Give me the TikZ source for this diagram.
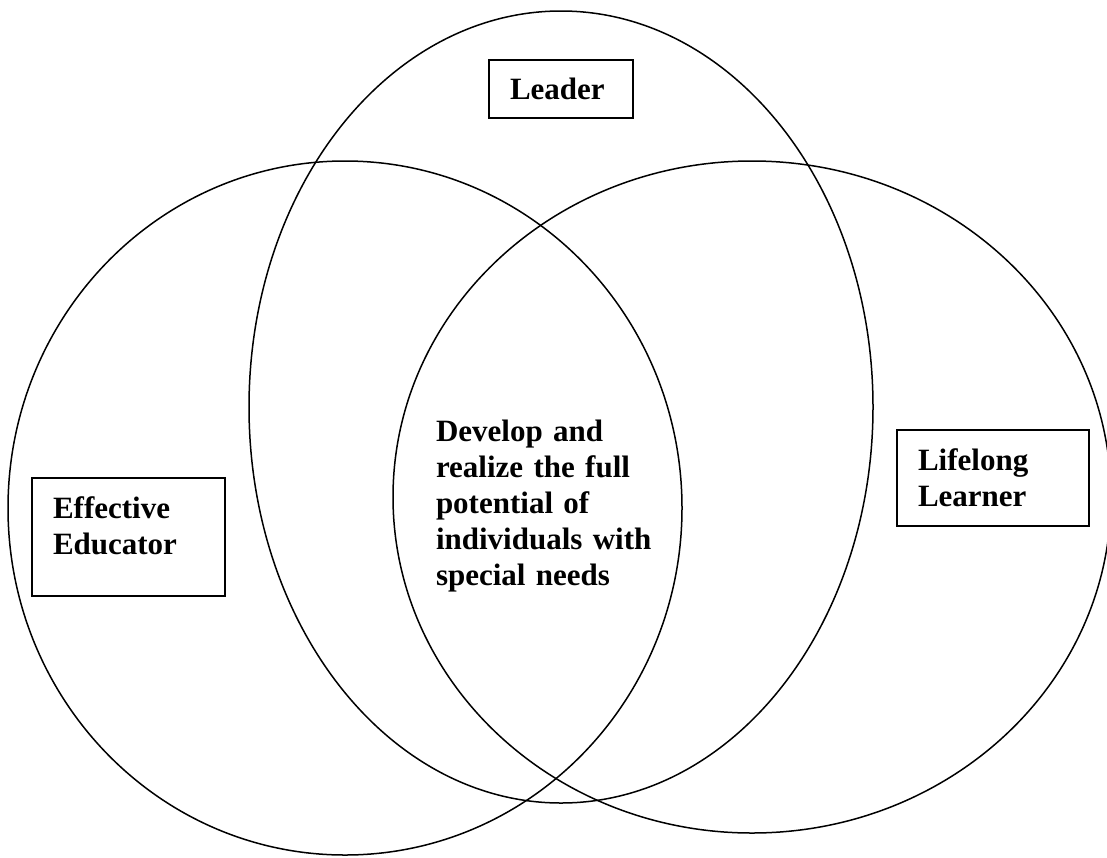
\documentclass[tikz,border=0pt]{standalone}
\usepackage{fontspec}
\setmainfont{Liberation Serif}
\usetikzlibrary{shapes}

\begin{document}
\begin{tikzpicture}[x=0.5pt,y=-0.5pt]
    \tikzstyle{ring}=[line width=0.75pt]
    \tikzstyle{every node}=[font=\fontsize{15.5}{18}\selectfont\bfseries,align=left,anchor=base west,outer sep=0pt]
    \tikzstyle{tag}=[draw,line width=0.9pt,inner xsep=10.5pt,inner ysep=0pt]
    \useasboundingbox (0,0) rectangle (1107,857);
    % the three circles
    \draw[ring] (345,508) ellipse [x radius=337, y radius=347];
    \draw[ring] (561,407) ellipse [x radius=312, y radius=396];
    \draw[ring] (752,497) ellipse [x radius=359, y radius=336];
    % labels
    \node[tag,text width=51pt,text height=19.5pt,text depth=9.5pt] (leader) at (489,99) {Leader};
    \node[tag,text width=75.5pt,text height=20pt,text depth=39pt] (educator) at (32,518) {Effective\\Educator};
    \node[tag,text width=75pt,text height=20pt,text depth=28pt] (learner) at (897,470) {Lifelong\\Learner};
    \node[inner sep=0pt,text width=120pt] (goal) at (436,441)
      {Develop and\\realize the full\\potential of\\individuals with\\special needs};
\end{tikzpicture}
\end{document}
